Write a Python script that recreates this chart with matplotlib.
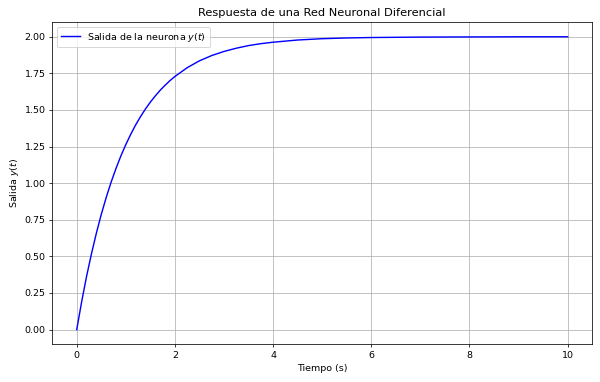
import matplotlib
matplotlib.use("Agg")
import matplotlib.pyplot as plt

t = [0.0, 0.1, 0.2, 0.3, 0.4, 0.5, 0.6, 0.7, 0.8, 0.9, 1.0, 1.1, 1.2, 1.3, 1.4, 1.5,
     1.6, 1.7, 1.8, 1.9, 2.0, 2.25, 2.5, 2.75, 3.0, 3.25, 3.5, 3.75, 4.0, 4.5, 5.0,
     5.5, 6.0, 7.0, 8.0, 9.0, 10.0]
y = [0.0, 0.190, 0.363, 0.518, 0.659, 0.787, 0.902, 1.007, 1.101, 1.187, 1.264,
     1.334, 1.398, 1.455, 1.507, 1.554, 1.596, 1.635, 1.669, 1.701, 1.729, 1.789,
     1.836, 1.872, 1.900, 1.922, 1.940, 1.953, 1.963, 1.978, 1.987, 1.992, 1.995,
     1.998, 1.999, 2.0, 2.0]

dpi = 68
fig, ax = plt.subplots(figsize=(600 / dpi, 382 / dpi), dpi=dpi)
ax.plot(t, y, color='blue', label='Salida de la neurona $y(t)$')
ax.set_title('Respuesta de una Red Neuronal Diferencial', fontsize=12)
ax.set_xlabel('Tiempo (s)')
ax.set_ylabel('Salida $y(t)$')
ax.set_yticks([0, 0.25, 0.5, 0.75, 1.0, 1.25, 1.5, 1.75, 2.0])
ax.grid(True)
ax.legend(loc='upper left')
fig.subplots_adjust(left=0.087, right=0.987, top=0.942, bottom=0.099)
fig.savefig('out.png', dpi=dpi)
